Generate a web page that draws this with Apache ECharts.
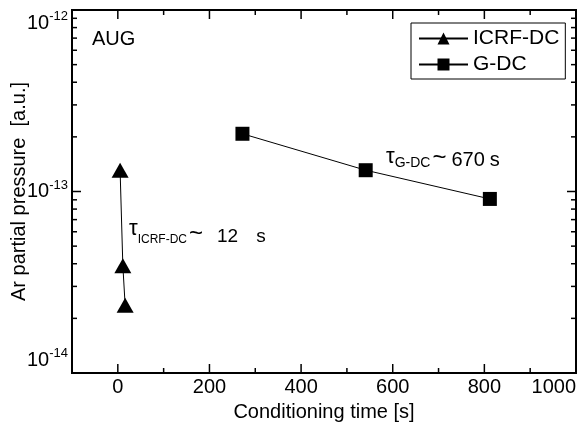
<!DOCTYPE html>
<html><head><meta charset="utf-8">
<script src="https://cdn.jsdelivr.net/npm/echarts@6/dist/echarts.min.js"></script>
<style>html,body{margin:0;padding:0;background:#fff}#c{width:586px;height:424px}</style>
</head><body><div id="c"></div>
<script>
// ---- data ----
const icrfTime = [5, 11, 16];
const icrfPressure = [1.31e-13, 3.9e-14, 2.36e-14];
const gdcTime = [272, 541, 812];
const gdcPressure = [2.08e-13, 1.31e-13, 9.1e-14];
const seriesNames = ['ICRF-DC', 'G-DC'];
const xMajorTicks = [0, 200, 400, 600, 800, 1000];
const xMinorTicks = [100, 300, 500, 700, 900];
const yMajorTicks = [1e-14, 1e-13, 1e-12];
const yMinorTicks = [2e-14, 3e-14, 4e-14, 5e-14, 6e-14, 7e-14, 8e-14, 9e-14,
                     2e-13, 3e-13, 4e-13, 5e-13, 6e-13, 7e-13, 8e-13, 9e-13];

// axis ranges
const X_MIN = -100, X_MAX = 1000;
const Y_MIN = 1e-14, Y_MAX = 1e-12;

const FONT = 'Liberation Sans, Arial, Helvetica, sans-serif';
const BLACK = '#000';

// ticks drawn through the axes' own scales (api.coord), on all four sides, pointing inward
function tickRender(kind, len) {
  return function (params, api) {
    let a, b, lines;
    if (kind === 'x') {
      const v = api.value(0);
      a = api.coord([v, Y_MIN]); b = api.coord([v, Y_MAX]);
      lines = [[a[0], a[1], a[0], a[1] - len], [b[0], b[1], b[0], b[1] + len]];
    } else {
      const v = api.value(1);
      a = api.coord([X_MIN, v]); b = api.coord([X_MAX, v]);
      lines = [[a[0], a[1], a[0] + len, a[1]], [b[0], b[1], b[0] - len, b[1]]];
    }
    return {
      type: 'group',
      children: lines.map(l => ({
        type: 'line', shape: {x1: l[0], y1: l[1], x2: l[2], y2: l[3]},
        style: {stroke: BLACK, lineWidth: 1.5}
      }))
    };
  };
}
function tickSeries(kind, values, len) {
  return {
    type: 'custom', silent: true, clip: false, z: 5,
    data: values.map(v => kind === 'x' ? [v, Y_MIN] : [X_MIN, v]),
    renderItem: tickRender(kind, len)
  };
}

const chart = echarts.init(document.getElementById('c'), null, {renderer: 'canvas'});
chart.setOption({
  backgroundColor: '#fff',
  animation: false,
  grid: {left: 72, right: 10, top: 10, bottom: 51, containLabel: false, outerBoundsMode: 'none',
         show: true, borderColor: BLACK, borderWidth: 2, backgroundColor: 'transparent'},
  xAxis: {
    type: 'value', min: X_MIN, max: X_MAX,
    splitLine: {show: false},
    axisLine: {show: false, onZero: false},
    axisTick: {show: false},
    axisLabel: {customValues: xMajorTicks, fontSize: 20, color: BLACK, fontFamily: FONT, margin: 4,
                alignMaxLabel: 'right', formatter: v => String(v)},
    name: 'Conditioning time [s]', nameLocation: 'middle', nameGap: 29, nameMoveOverlap: false,
    nameTextStyle: {fontSize: 20, color: BLACK, fontFamily: FONT}
  },
  yAxis: {
    type: 'log', logBase: 10, min: Y_MIN, max: Y_MAX,
    splitLine: {show: false},
    axisLine: {show: false, onZero: false},
    axisTick: {show: false},
    axisLabel: {
      customValues: yMajorTicks, margin: 4,
      verticalAlignMinLabel: 'bottom', verticalAlignMaxLabel: 'top',
      formatter: v => '{a|10}{b|' + Math.round(Math.log10(v)) + '}',
      rich: {
        a: {fontSize: 20, lineHeight: 26, color: BLACK, fontFamily: FONT},
        b: {fontSize: 13, lineHeight: 13, verticalAlign: 'top', color: BLACK, fontFamily: FONT}
      }
    },
    name: 'Ar partial pressure  [a.u.]', nameLocation: 'middle', nameGap: 43, nameMoveOverlap: false,
    nameTextStyle: {fontSize: 20, color: BLACK, fontFamily: FONT}
  },
  legend: {
    data: seriesNames, orient: 'vertical', left: 411, top: 23,
    itemWidth: 49, itemHeight: 15, itemGap: 5, padding: [5, 6, 4, 7],
    borderColor: BLACK, borderWidth: 1, backgroundColor: '#fff',
    textStyle: {fontSize: 21, color: BLACK, fontFamily: FONT}
  },
  series: [
    {
      type: 'line', name: seriesNames[0],
      data: icrfTime.map((t, i) => [t, icrfPressure[i]]),
      symbol: 'triangle', symbolSize: [17, 15],
      itemStyle: {color: BLACK}, lineStyle: {color: BLACK, width: 1}
    },
    {
      type: 'line', name: seriesNames[1],
      data: gdcTime.map((t, i) => [t, gdcPressure[i]]),
      symbol: 'rect', symbolSize: 14,
      itemStyle: {color: BLACK}, lineStyle: {color: BLACK, width: 1}
    },
    tickSeries('x', xMajorTicks, 9),
    tickSeries('x', xMinorTicks, 5),
    tickSeries('y', yMajorTicks, 9),
    tickSeries('y', yMinorTicks, 5)
  ],
  graphic: [
    {type: 'text', left: 92, top: 29, style: {text: 'AUG', fontSize: 20, fontFamily: FONT, fill: BLACK}},
    {type: 'text', left: 129, top: 218, style: {
      text: '{t|τ}{s|ICRF-DC}{m|~}{n|12}{u|s}', fill: BLACK,
      rich: {
        t: {fontSize: 22, fontFamily: FONT, verticalAlign: 'bottom', lineHeight: 22, padding: [0, 0, 6, 0]},
        s: {fontSize: 12, fontFamily: FONT, verticalAlign: 'bottom', lineHeight: 12},
        m: {fontSize: 24, fontFamily: FONT, verticalAlign: 'bottom', lineHeight: 19, padding: [0, 0, 0, 2]},
        n: {fontSize: 19, fontFamily: FONT, verticalAlign: 'bottom', lineHeight: 19, padding: [0, 0, 0, 14]},
        u: {fontSize: 19, fontFamily: FONT, verticalAlign: 'bottom', lineHeight: 19, padding: [0, 0, 0, 18]}
      }
    }},
    {type: 'text', left: 386, top: 146, style: {
      text: '{t|τ}{s|G-DC}{m|~}{n|670}{u|s}', fill: BLACK,
      rich: {
        t: {fontSize: 22, fontFamily: FONT, verticalAlign: 'bottom', lineHeight: 22, padding: [0, 0, 2, 0]},
        s: {fontSize: 14, fontFamily: FONT, verticalAlign: 'bottom', lineHeight: 14},
        m: {fontSize: 24, fontFamily: FONT, verticalAlign: 'bottom', lineHeight: 20, padding: [0, 0, 0, 2]},
        n: {fontSize: 20, fontFamily: FONT, verticalAlign: 'bottom', lineHeight: 20, padding: [0, 0, 0, 5]},
        u: {fontSize: 20, fontFamily: FONT, verticalAlign: 'bottom', lineHeight: 20, padding: [0, 0, 0, 5]}
      }
    }}
  ]
});
</script></body></html>
